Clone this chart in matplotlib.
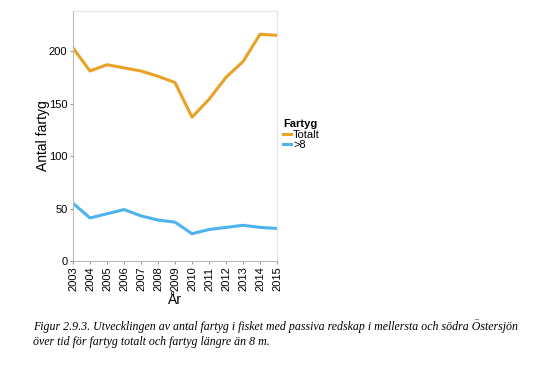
import matplotlib
matplotlib.use("Agg")
import matplotlib.pyplot as plt

# data
years = [2003, 2004, 2005, 2006, 2007, 2008, 2009, 2010, 2011, 2012, 2013, 2014, 2015]
totalt = [203, 181, 187, 184, 181, 176, 170, 137, 154, 175, 190, 216, 215]
over8 = [55, 41, 45, 49, 43, 39, 37, 26, 30, 32, 34, 32, 31]

caption = ("Figur 2.9.3. Utvecklingen av antal fartyg i fisket med passiva redskap i mellersta och södra Östersjön\n"
           "över tid för fartyg totalt och fartyg längre än 8 m.")

plt.rcParams['font.family'] = ['Liberation Sans', 'DejaVu Sans']

fig = plt.figure(figsize=(5.5, 3.69), dpi=100)
ax = fig.add_axes([0.1327, 0.2927, 0.371, 0.677])

ax.plot(years, totalt, color='#E9A126', lw=2.2, label='Totalt')
ax.plot(years, over8, color='#4DB3EE', lw=2.2, label='>8')

ax.set_xlim(2003, 2015)
ax.set_ylim(0, 238)
ax.set_xticks(years)
ax.set_xticklabels([str(y) for y in years], rotation=90)
ax.set_yticks([0, 50, 100, 150, 200])
ax.tick_params(axis='both', labelsize=8, color='#999999', length=2.5, width=0.8, pad=1.5)

for s in ax.spines.values():
    s.set_color('#E3E3E3')
    s.set_linewidth(0.8)
ax.spines['left'].set_color('#BBBBBB')
ax.spines['bottom'].set_color('#BBBBBB')

ax.set_ylabel('Antal fartyg', fontsize=10, labelpad=-1)
ax.set_xlabel('År', fontsize=10, labelpad=1)

leg = ax.legend(title='Fartyg', loc='upper left', bbox_to_anchor=(1.03, 0.57),
                frameon=False, fontsize=8, handlelength=0.7, handletextpad=0.2,
                labelspacing=0.0, borderaxespad=0, borderpad=0)
leg.get_title().set_fontweight('bold')
leg.get_title().set_fontsize(8)
leg._legend_box.align = 'left'
leg._legend_box.sep = 1

fig.text(0.06, 0.135, caption, fontsize=8.6, style='italic', va='top',
         family=['Liberation Serif', 'DejaVu Serif'], linespacing=1.3)

fig.savefig('out.png', dpi=100, facecolor='white')
